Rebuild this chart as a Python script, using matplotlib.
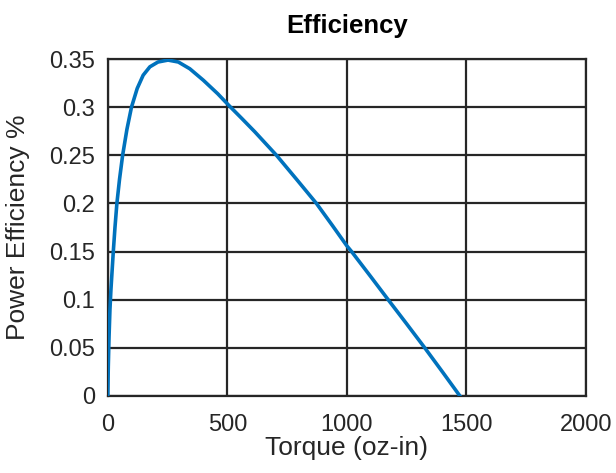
import matplotlib.pyplot as plt

plt.rcParams["font.family"] = ["Liberation Sans", "DejaVu Sans"]

# values
torque = [0, 2, 5, 9, 13, 18, 23, 30, 38, 49, 62, 80, 99, 123, 148, 176, 210,
          252, 295, 343, 400, 460, 510, 560, 615, 706, 790, 873, 940, 1000,
          1020, 1100, 1173, 1250, 1326, 1400, 1473]
efficiency = [0, 0.03, 0.06, 0.09, 0.11, 0.13, 0.15, 0.175, 0.20, 0.225, 0.25,
              0.277, 0.30, 0.3195, 0.3333, 0.342, 0.347, 0.349, 0.347, 0.340,
              0.328, 0.314, 0.301, 0.2885, 0.2745, 0.25, 0.225, 0.20, 0.177,
              0.156, 0.150, 0.124, 0.10, 0.075, 0.05, 0.025, 0]

xticks = [0, 500, 1000, 1500, 2000]
yticks = [0, 0.05, 0.1, 0.15, 0.2, 0.25, 0.3, 0.35]
ytick_labels = ["0", "0.05", "0.1", "0.15", "0.2", "0.25", "0.3", "0.35"]

fig = plt.figure(figsize=(6.16, 4.73), dpi=100)
ax = fig.add_axes([0.175, 0.163, 0.776, 0.712])

ax.plot(torque, efficiency, color="#0072BD", linewidth=2.6,
        solid_joinstyle="round", zorder=3)

ax.set_xlim(0, 2000)
ax.set_ylim(0, 0.35)
ax.set_xticks(xticks)
ax.set_xticklabels([str(t) for t in xticks])
ax.set_yticks(yticks)
ax.set_yticklabels(ytick_labels)
ax.tick_params(length=0, labelsize=17, colors="#262626")
ax.tick_params(axis="x", pad=13)
ax.tick_params(axis="y", pad=9)

ax.grid(True, color="#262626", linewidth=1.6)
for s in ax.spines.values():
    s.set_color("#262626")
    s.set_linewidth(1.6)

ax.set_title("Efficiency", fontsize=18.5, fontweight="bold", pad=19)
ax.set_xlabel("Torque (oz-in)", fontsize=19, labelpad=0, color="#262626")
ax.set_ylabel("Power Efficiency %", fontsize=19, labelpad=14, color="#262626")

plt.savefig("out.png", dpi=100)
